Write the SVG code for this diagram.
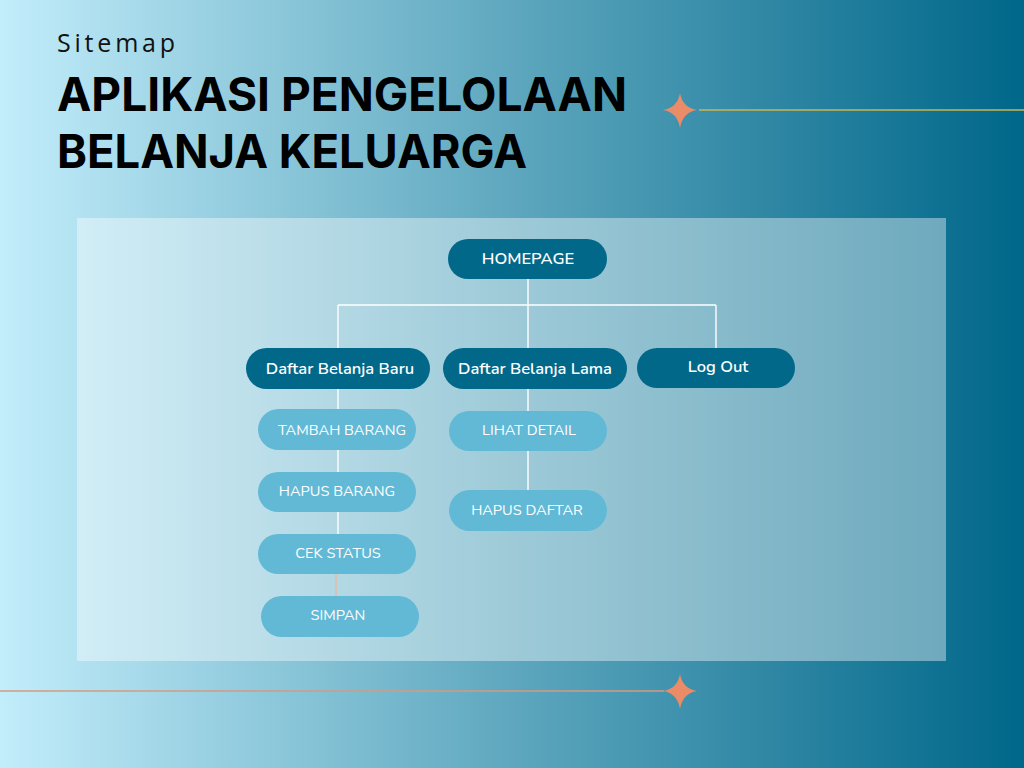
<svg xmlns="http://www.w3.org/2000/svg" width="1024" height="768" viewBox="0 0 1024 768">
<defs>
<linearGradient id="bg" x1="0" y1="0" x2="1" y2="0">
<stop offset="0" stop-color="#c2edfb"/>
<stop offset="0.5" stop-color="#5ea7be"/>
<stop offset="1" stop-color="#00678a"/>
</linearGradient>
<style>
.dark{fill:#02688a}
.light{fill:#62b9d6}
.t1{font-family:"Nunito","Open Sans","Liberation Sans",sans-serif;font-weight:600;font-size:16.5px;fill:#ffffff;text-anchor:middle;dominant-baseline:central}
.t2{font-family:"Nunito","Open Sans","Liberation Sans",sans-serif;font-weight:400;font-size:14.6px;fill:#ffffff;text-anchor:middle;dominant-baseline:central}
.con line{stroke:#ffffff;stroke-width:1.4}
.star{fill:#ea8c68}
</style>
</defs>
<rect width="1024" height="768" fill="url(#bg)"/>
<rect x="77" y="218" width="869" height="443" fill="#ffffff" fill-opacity="0.4"/>
<text x="57" y="52" font-family="'Open Sans','Liberation Sans',sans-serif" font-size="25" fill="#111" letter-spacing="3.8">Sitemap</text>
<text x="57" y="111" font-family="'Inter','Liberation Sans',sans-serif" font-weight="700" font-size="47" fill="#000" textLength="570" lengthAdjust="spacingAndGlyphs">APLIKASI PENGELOLAAN</text>
<text x="57" y="168" font-family="'Inter','Liberation Sans',sans-serif" font-weight="700" font-size="47" fill="#000" textLength="470" lengthAdjust="spacingAndGlyphs">BELANJA KELUARGA</text>
<line x1="699" y1="110" x2="1024" y2="110" stroke="#c9b655" stroke-width="1.5"/>
<path class="star" d="M680 93 Q682.5 107.5 697 110 Q682.5 112.5 680 128 Q677.5 112.5 663 110 Q677.5 107.5 680 93 Z"/>
<line x1="0" y1="691" x2="664" y2="691" stroke="#d49a82" stroke-width="1.5"/>
<path class="star" d="M680 674 Q682.5 688.5 697 691 Q682.5 693.5 680 709 Q677.5 693.5 663 691 Q677.5 688.5 680 674 Z"/>
<g id="connectors" class="con">
<line x1="528" y1="278" x2="528" y2="349"/>
<line x1="338" y1="305" x2="716" y2="305"/>
<line x1="338" y1="305" x2="338" y2="349"/>
<line x1="716" y1="305" x2="716" y2="349"/>
<line x1="338" y1="388" x2="338" y2="410"/>
<line x1="338" y1="450" x2="338" y2="472"/>
<line x1="338" y1="512" x2="338" y2="534"/>
<line x1="336" y1="574" x2="336" y2="597" style="stroke:#e8b8a4"/>
<line x1="528" y1="389" x2="528" y2="412"/>
<line x1="528" y1="451" x2="528" y2="491"/>
</g>
<g id="homepage"><rect class="dark" x="448" y="239" width="159" height="40" rx="20"/><text class="t1" x="528" y="258">HOMEPAGE</text></g>
<g id="baru"><rect class="dark" x="246" y="348" width="184" height="41" rx="20.5"/><text class="t1" x="340" y="368">Daftar Belanja Baru</text></g>
<g id="lama"><rect class="dark" x="443" y="348" width="184" height="41" rx="20.5"/><text class="t1" x="535" y="368">Daftar Belanja Lama</text></g>
<g id="logout"><rect class="dark" x="637" y="348" width="158" height="40" rx="20"/><text class="t1" x="718" y="366">Log Out</text></g>
<g id="tambah"><rect class="light" x="258" y="409" width="158" height="41" rx="20.5"/><text class="t2" x="342" y="430">TAMBAH BARANG</text></g>
<g id="hapusbarang"><rect class="light" x="258" y="472" width="158" height="40" rx="20"/><text class="t2" x="337" y="491">HAPUS BARANG</text></g>
<g id="cekstatus"><rect class="light" x="258" y="534" width="158" height="40" rx="20"/><text class="t2" x="338" y="553">CEK STATUS</text></g>
<g id="simpan"><rect class="light" x="261" y="596" width="158" height="41" rx="20.5"/><text class="t2" x="338" y="615">SIMPAN</text></g>
<g id="lihatdetail"><rect class="light" x="449" y="411" width="158" height="40" rx="20"/><text class="t2" x="529" y="430">LIHAT DETAIL</text></g>
<g id="hapusdaftar"><rect class="light" x="449" y="490" width="158" height="41" rx="20.5"/><text class="t2" x="527" y="510">HAPUS DAFTAR</text></g>
</svg>
